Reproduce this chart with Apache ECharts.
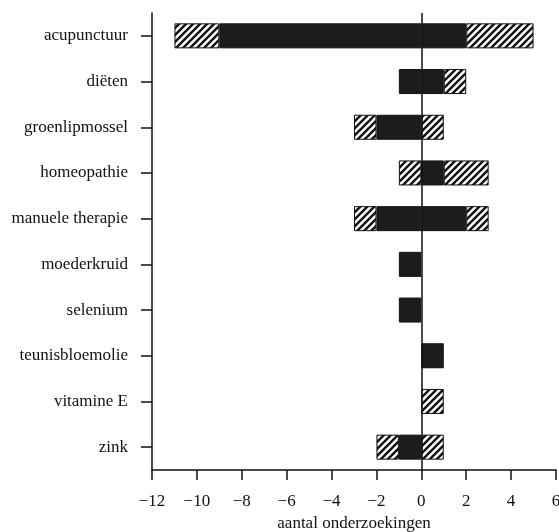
<!DOCTYPE html>
<html>
<head>
<meta charset="utf-8">
<script src="https://cdn.jsdelivr.net/npm/echarts@6/dist/echarts.min.js"></script>
<style>
  html, body { margin: 0; padding: 0; background: #fff; }
  #chart { width: 559px; height: 532px; }
</style>
</head>
<body>
<div id="chart"></div>
<script>
// Therapies, top to bottom
const categories = ['acupunctuur', 'diëten', 'groenlipmossel', 'homeopathie', 'manuele therapie',
  'moederkruid', 'selenium', 'teunisbloemolie', 'vitamine E', 'zink'];

// Number of studies: solid (black) and hatched parts, negative and positive side
const negSolid  = [-9, -1, -2, null, -2, -1, -1, null, null, -1];
const negHatch  = [-2, null, -1, -1, -1, null, null, null, null, -1];
const posSolid  = [2, 1, null, 1, 2, null, null, 1, null, null];
const posHatch  = [3, 1, 1, 2, 1, null, null, null, 1, 1];

const xTicks = [-12, -10, -8, -6, -4, -2, 0, 2, 4, 6];

// Diagonal hatch fill
function hatchPattern() {
  const s = 7;
  const c = document.createElement('canvas');
  c.width = s; c.height = s;
  const g = c.getContext('2d');
  g.fillStyle = '#fff';
  g.fillRect(0, 0, s, s);
  g.strokeStyle = '#111';
  g.lineWidth = 2.4;
  g.beginPath();
  g.moveTo(-1, s + 1); g.lineTo(s + 1, -1);
  g.moveTo(-2, 2); g.lineTo(2, -2);
  g.moveTo(s - 2, s + 2); g.lineTo(s + 2, s - 2);
  g.stroke();
  return c;
}
const hatch = { image: hatchPattern(), repeat: 'repeat' };

const font = '"Liberation Serif", "DejaVu Serif", serif';
const solidStyle = { color: '#1c1c1c', borderColor: '#111', borderWidth: 1 };
const hatchStyle = { color: hatch, borderColor: '#111', borderWidth: 1 };

function bar(name, data, style) {
  return {
    name, type: 'bar', stack: 'total', data, barWidth: 25,
    itemStyle: style, silent: true, animation: false
  };
}

const series = [
  bar('negSolid', negSolid, solidStyle),
  bar('negHatch', negHatch, hatchStyle),
  bar('posSolid', posSolid, solidStyle),
  bar('posHatch', posHatch, hatchStyle)
];
// vertical reference line at zero
series[0].markLine = {
  silent: true, symbol: 'none', animation: false,
  label: { show: false },
  lineStyle: { color: '#111', width: 1.5, type: 'solid' },
  data: [{ xAxis: 0 }]
};

const chart = echarts.init(document.getElementById('chart'), null, { renderer: 'canvas' });
chart.setOption({
  backgroundColor: '#fff',
  animation: false,
  grid: { left: 152, right: 3, top: 13, bottom: 62, containLabel: false, outerBoundsMode: 'none' },
  xAxis: {
    type: 'value', min: xTicks[0], max: xTicks[xTicks.length - 1], interval: 2,
    name: 'aantal onderzoekingen', nameLocation: 'middle', nameGap: 44,
    nameTextStyle: { fontFamily: font, fontSize: 17, color: '#111' },
    axisLine: { show: true, onZero: false, lineStyle: { color: '#111', width: 1.5 } },
    axisTick: { show: true, length: 10, lineStyle: { color: '#111', width: 1.5 } },
    axisLabel: {
      fontFamily: font, fontSize: 17, color: '#111', margin: 23,
      formatter: v => String(v).replace('-', '\u2212')
    },
    splitLine: { show: false }
  },
  yAxis: {
    type: 'category', data: categories, inverse: true,
    axisLine: { show: true, onZero: false, lineStyle: { color: '#111', width: 1.5 } },
    axisTick: { show: true, alignWithLabel: true, length: 11, lineStyle: { color: '#111', width: 1.5 } },
    axisLabel: { fontFamily: font, fontSize: 17, color: '#111', margin: 24 },
    splitLine: { show: false }
  },
  series
});
</script>
</body>
</html>
